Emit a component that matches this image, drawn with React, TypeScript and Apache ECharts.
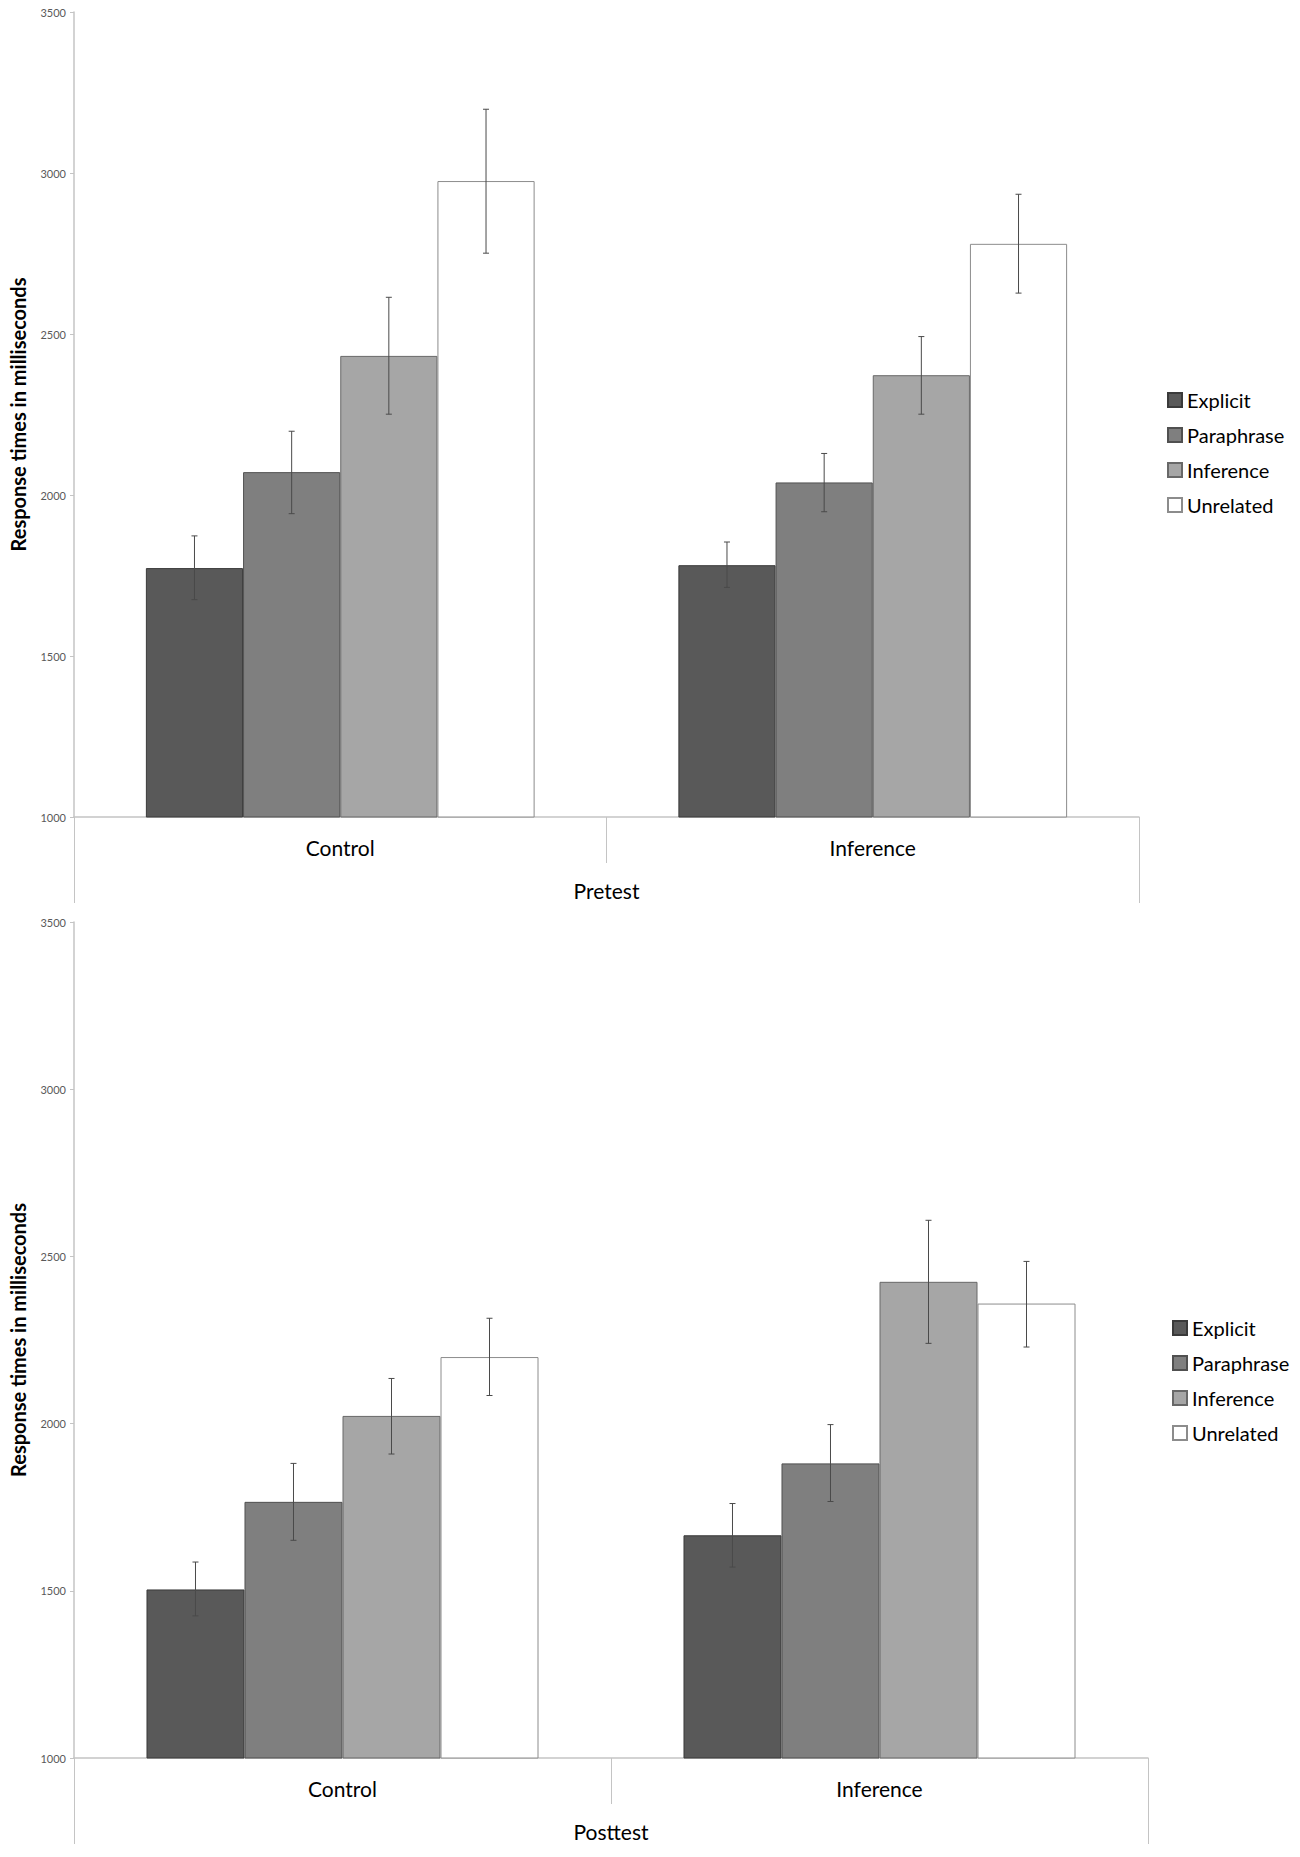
import React, { useEffect, useRef } from "react";
import * as echarts from "echarts";

const groups = ["Control", "Inference"];
const seriesNames = ["Explicit", "Paraphrase", "Inference", "Unrelated"];
const yTicks = { min: 1000, max: 3500, interval: 500 };

// Pretest
const preExplicit = [1773, 1782];
const preParaphrase = [2071, 2039];
const preInference = [2432, 2372];
const preUnrelated = [2975, 2780];
const preLow = [
  [1675, 1713],
  [1942, 1948],
  [2251, 2251],
  [2751, 2627],
];
const preHigh = [
  [1873, 1854],
  [2198, 2129],
  [2614, 2492],
  [3198, 2934],
];

// Posttest
const postExplicit = [1504, 1666];
const postParaphrase = [1766, 1881];
const postInference = [2023, 2424];
const postUnrelated = [2199, 2359];
const postLow = [
  [1425, 1571],
  [1651, 1767],
  [1909, 2240],
  [2084, 2229],
];
const postHigh = [
  [1586, 1761],
  [1881, 1997],
  [2135, 2608],
  [2315, 2485],
];

const fills = ["#595959", "#7f7f7f", "#a6a6a6", "#ffffff"];
const borders = ["#3a3a3a", "#505050", "#686868", "#8c8c8c"];
const GAP = 0.27;
const FONT = "Lato";

function errData(low: number[][], high: number[][]) {
  const out: number[][] = [];
  for (let s = 0; s < 4; s++) {
    for (let c = 0; c < groups.length; c++) {
      out.push([c, low[s][c], high[s][c], s]);
    }
  }
  return out;
}

function renderErr(params: any, api: any) {
  const c = api.value(0);
  const lo = api.value(1);
  const hi = api.value(2);
  const s = api.value(3);
  const p0 = api.coord([c, lo]);
  const p1 = api.coord([c, hi]);
  const band = api.size([1, 0])[0];
  const total = band * (1 - GAP);
  const bw = total / 4;
  const x = p0[0] - total / 2 + bw * (s + 0.5);
  const cap = 3;
  const style = { stroke: "#4a4a4a", lineWidth: 1 };
  return {
    type: "group",
    children: [
      { type: "line", shape: { x1: x, y1: p0[1], x2: x, y2: p1[1] }, style },
      { type: "line", shape: { x1: x - cap, y1: p0[1], x2: x + cap, y2: p0[1] }, style },
      { type: "line", shape: { x1: x - cap, y1: p1[1], x2: x + cap, y2: p1[1] }, style },
    ],
  };
}

function barSeries(values: number[][], xi: number, yi: number) {
  return values.map((v, i) => ({
    type: "bar",
    name: seriesNames[i],
    xAxisIndex: xi,
    yAxisIndex: yi,
    data: v,
    barGap: "0%",
    barCategoryGap: GAP * 100 + "%",
    itemStyle: { color: fills[i], borderColor: borders[i], borderWidth: 1 },
    emphasis: { disabled: true },
  }));
}

function catAxes(gridIndex: number, outer: string) {
  return [
    {
      type: "category",
      gridIndex,
      data: groups,
      position: "bottom",
      axisLine: { show: true, lineStyle: { color: "#c4c4c4", width: 1.5 } },
      axisTick: { show: true, interval: 0, length: 46, lineStyle: { color: "#c4c4c4" } },
      axisLabel: { margin: 20, fontSize: 21, lineHeight: 21, fontFamily: FONT, color: "#000" },
    },
    {
      type: "category",
      gridIndex,
      data: [outer],
      position: "bottom",
      axisLine: { show: false },
      axisTick: { show: true, interval: 0, length: 86, lineStyle: { color: "#c4c4c4" } },
      axisLabel: { margin: 63, fontSize: 21, lineHeight: 21, fontFamily: FONT, color: "#000" },
    },
  ];
}

function valAxis(gridIndex: number) {
  return {
    type: "value",
    gridIndex,
    min: yTicks.min,
    max: yTicks.max,
    interval: yTicks.interval,
    name: "Response times in milliseconds",
    nameLocation: "middle",
    nameGap: 46,
    nameTextStyle: { fontSize: 20, fontWeight: "bold", fontFamily: FONT, color: "#000" },
    axisLine: { show: true, lineStyle: { color: "#c4c4c4", width: 1.5 } },
    axisTick: { show: true, length: 4, lineStyle: { color: "#c4c4c4" } },
    axisLabel: {
      fontSize: 11,
      fontFamily: FONT,
      color: "#595959",
      margin: 8,
      formatter: (v: number) => String(v),
    },
    splitLine: { show: false },
  };
}

function legend(left: number, top: number) {
  return {
    orient: "vertical",
    left,
    top,
    icon: "rect",
    itemWidth: 14,
    itemHeight: 14,
    itemGap: 15,
    selectedMode: false,
    data: seriesNames,
    textStyle: { fontSize: 20, lineHeight: 20, fontFamily: FONT, color: "#000" },
  };
}

export default function App() {
  const ref = useRef<HTMLDivElement>(null);
  useEffect(() => {
    document.body.style.margin = "0";
    if (!ref.current) return;
    const chart = echarts.init(ref.current, null, { renderer: "svg" });
    chart.setOption({
      animation: false,
      backgroundColor: "#ffffff",
      grid: [
        { left: 71, top: 12, width: 1068, height: 805 },
        { left: 71, top: 922, width: 1077, height: 836 },
      ],
      legend: [legend(1162, 385), legend(1167, 1313)],
      xAxis: [...catAxes(0, "Pretest"), ...catAxes(1, "Posttest")],
      yAxis: [valAxis(0), valAxis(1)],
      series: [
        ...barSeries([preExplicit, preParaphrase, preInference, preUnrelated], 0, 0),
        ...barSeries([postExplicit, postParaphrase, postInference, postUnrelated], 2, 1),
        {
          type: "custom",
          name: "err-pre",
          xAxisIndex: 0,
          yAxisIndex: 0,
          z: 10,
          renderItem: renderErr,
          encode: { x: 0, y: [1, 2] },
          data: errData(preLow, preHigh),
          silent: true,
        },
        {
          type: "custom",
          name: "err-post",
          xAxisIndex: 2,
          yAxisIndex: 1,
          z: 10,
          renderItem: renderErr,
          encode: { x: 0, y: [1, 2] },
          data: errData(postLow, postHigh),
          silent: true,
        },
      ],
    });
    return () => chart.dispose();
  }, []);
  return <div ref={ref} style={{ width: 1300, height: 1857 }} />;
}
